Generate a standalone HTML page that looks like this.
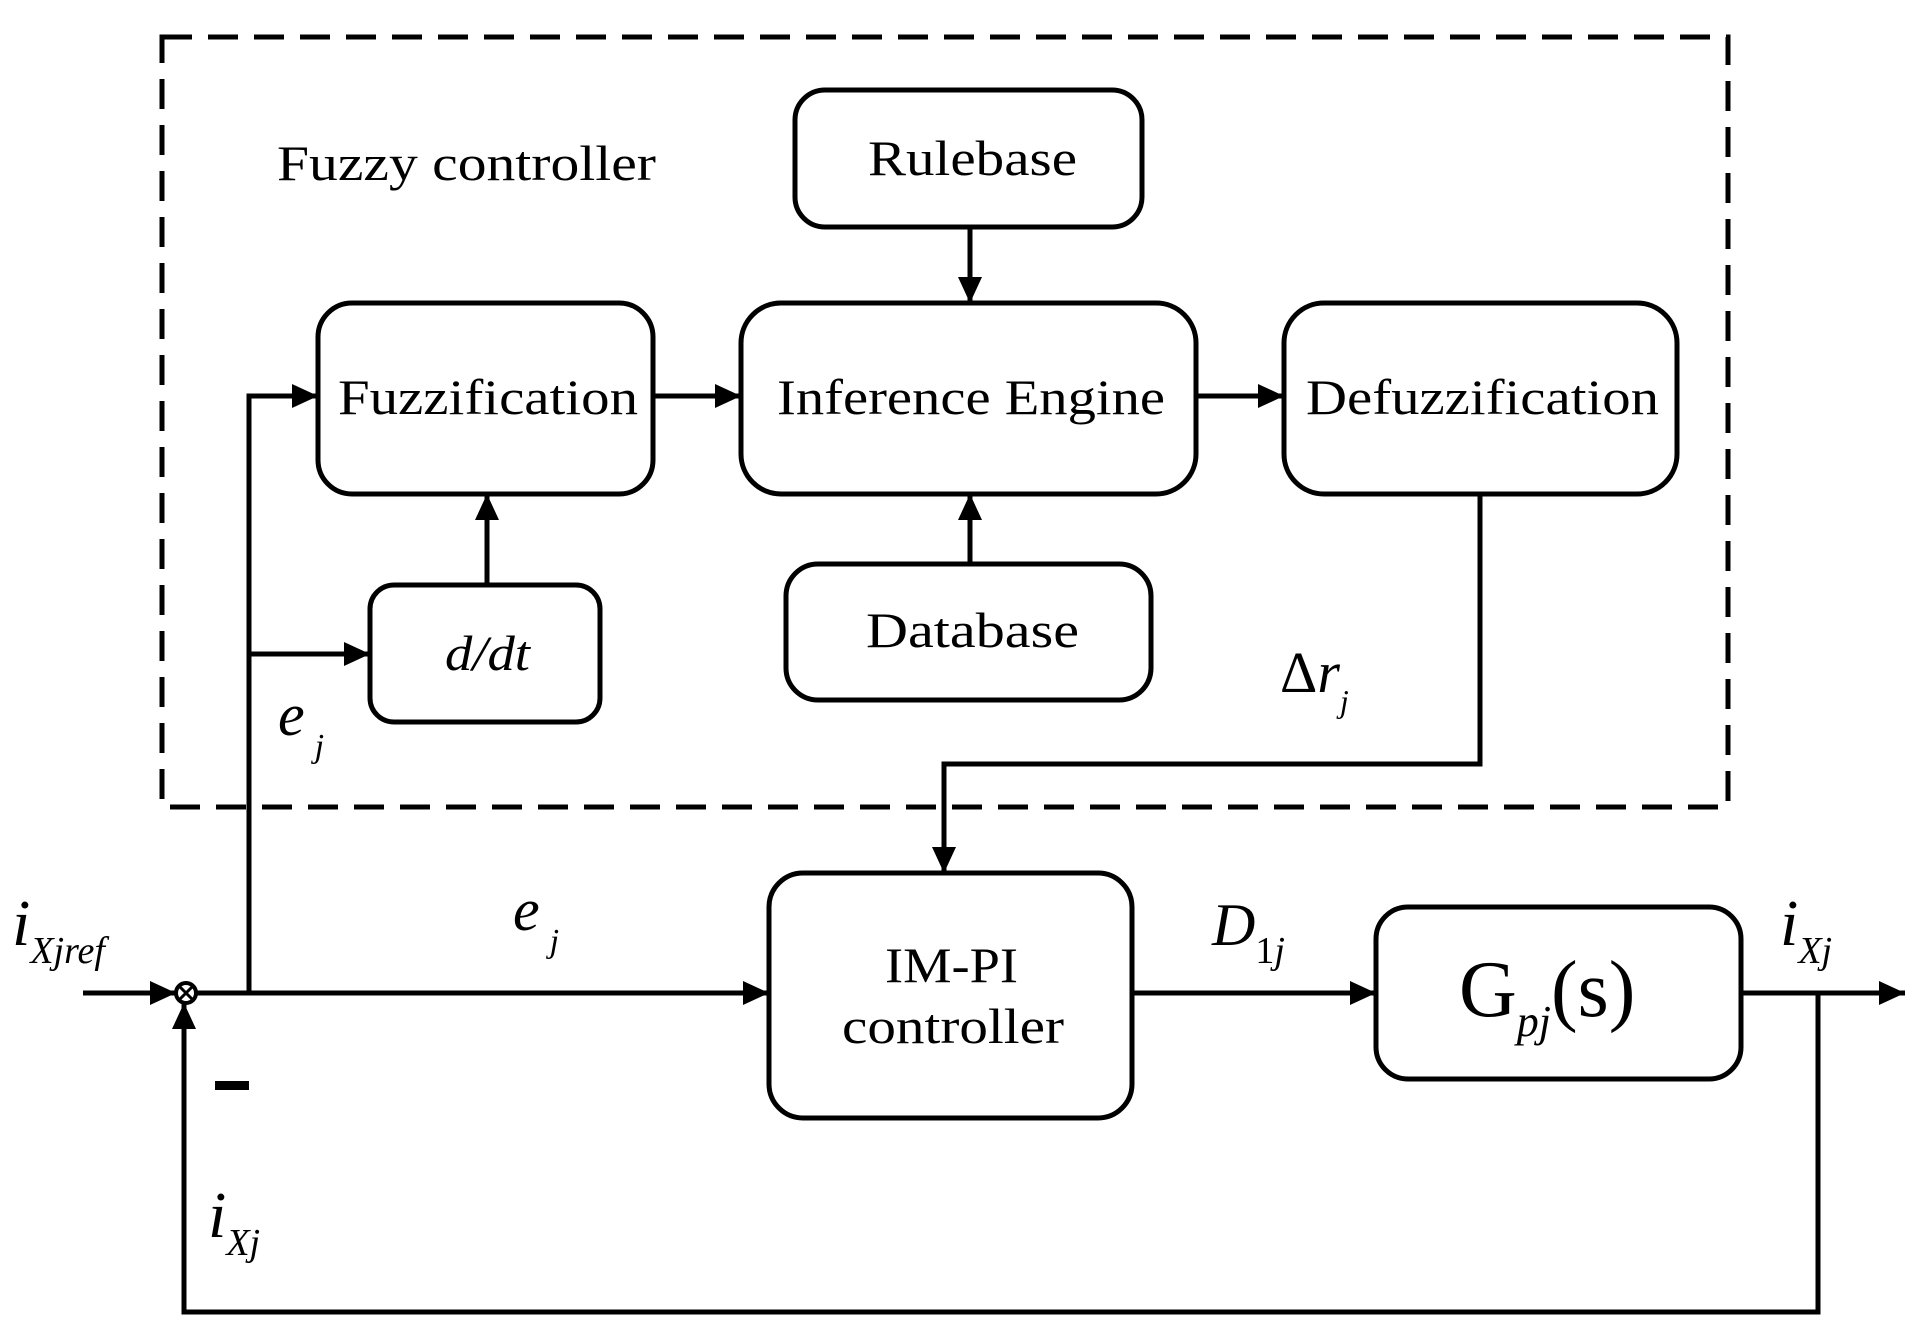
<!DOCTYPE html>
<html><head><meta charset="utf-8"><style>
html,body{margin:0;padding:0;background:#fff}
svg{display:block}
text{font-family:"Liberation Serif",serif;fill:#000}
</style></head><body>
<svg width="1913" height="1328" viewBox="0 0 1913 1328" xmlns="http://www.w3.org/2000/svg">
<defs>
<marker id="b" markerWidth="26" markerHeight="24" refX="26" refY="12" orient="auto" markerUnits="userSpaceOnUse">
<path d="M0,0 L26,12 L0,24 z" fill="#000"/></marker>
</defs>
<rect x="162" y="37" width="1566" height="770" fill="none" stroke="#000" stroke-width="5" stroke-dasharray="30,16"/>
<g fill="none" stroke="#000" stroke-width="5">
<rect x="795" y="90" width="347" height="137" rx="30"/>
<rect x="318" y="303" width="335" height="191" rx="34"/>
<rect x="741" y="303" width="455" height="191" rx="40"/>
<rect x="1284" y="303" width="393" height="191" rx="40"/>
<rect x="370" y="585" width="230" height="137" rx="24"/>
<rect x="786" y="564" width="365" height="136" rx="32"/>
<rect x="769" y="873" width="363" height="245" rx="34"/>
<rect x="1376" y="907" width="365" height="172" rx="32"/>
</g>
<g fill="none" stroke="#000" stroke-width="5" marker-end="url(#b)">
<path d="M970,227 V303"/>
<path d="M970,564 V494"/>
<path d="M487,585 V494"/>
<path d="M653,396 H741"/>
<path d="M1196,396 H1284"/>
<path d="M249,993 V396 H318"/>
<path d="M249,654 H370"/>
<path d="M1480,494 V764 H944 V873"/>
<path d="M196,993 H769"/>
<path d="M1132,993 H1376"/>
<path d="M1741,993 H1905"/>
<path d="M1818,993 V1312 H184 V1003"/>
<path d="M83,993 H176"/>
</g>
<circle cx="186" cy="993" r="10" fill="#fff" stroke="#000" stroke-width="4"/>
<path d="M180,987 L192,999 M192,987 L180,999" stroke="#000" stroke-width="3"/>
<rect x="215" y="1081" width="34" height="9" fill="#000"/>
<g font-size="50">
<text x="868" y="175" textLength="209" lengthAdjust="spacingAndGlyphs">Rulebase</text>
<text x="338" y="414" textLength="300" lengthAdjust="spacingAndGlyphs">Fuzzification</text>
<text x="777" y="414" textLength="388" lengthAdjust="spacingAndGlyphs">Inference Engine</text>
<text x="1306" y="414" textLength="353" lengthAdjust="spacingAndGlyphs">Defuzzification</text>
<text x="445" y="670" font-style="italic" textLength="85" lengthAdjust="spacingAndGlyphs">d/dt</text>
<text x="866" y="647" textLength="213" lengthAdjust="spacingAndGlyphs">Database</text>
<text x="885" y="982" textLength="133" lengthAdjust="spacingAndGlyphs">IM-PI</text>
<text x="842" y="1043" textLength="222" lengthAdjust="spacingAndGlyphs">controller</text>
<text x="277" y="180" textLength="379" lengthAdjust="spacingAndGlyphs">Fuzzy controller</text>
</g>
<text x="1459" y="1016" font-size="80">G<tspan font-size="44" font-style="italic" dy="20">pj</tspan><tspan dy="-20">(s)</tspan></text>
<g font-style="italic">
<text x="278" y="735" font-size="60">e<tspan font-size="34" dx="10" dy="22">j</tspan></text>
<text x="513" y="930" font-size="60">e<tspan font-size="34" dx="10" dy="22">j</tspan></text>
<text x="1280" y="692" font-size="58"><tspan font-style="normal">Δ</tspan>r<tspan font-size="32" dy="20">j</tspan></text>
<text x="12" y="945" font-size="66">i<tspan font-size="38" dy="18">Xjref</tspan></text>
<text x="1212" y="945" font-size="60">D<tspan font-size="38" font-style="normal" dy="18">1</tspan><tspan font-size="38">j</tspan></text>
<text x="1780" y="945" font-size="66">i<tspan font-size="38" dy="18">Xj</tspan></text>
<text x="208" y="1237" font-size="66">i<tspan font-size="38" dy="18">Xj</tspan></text>
</g>
</svg>
</body></html>
